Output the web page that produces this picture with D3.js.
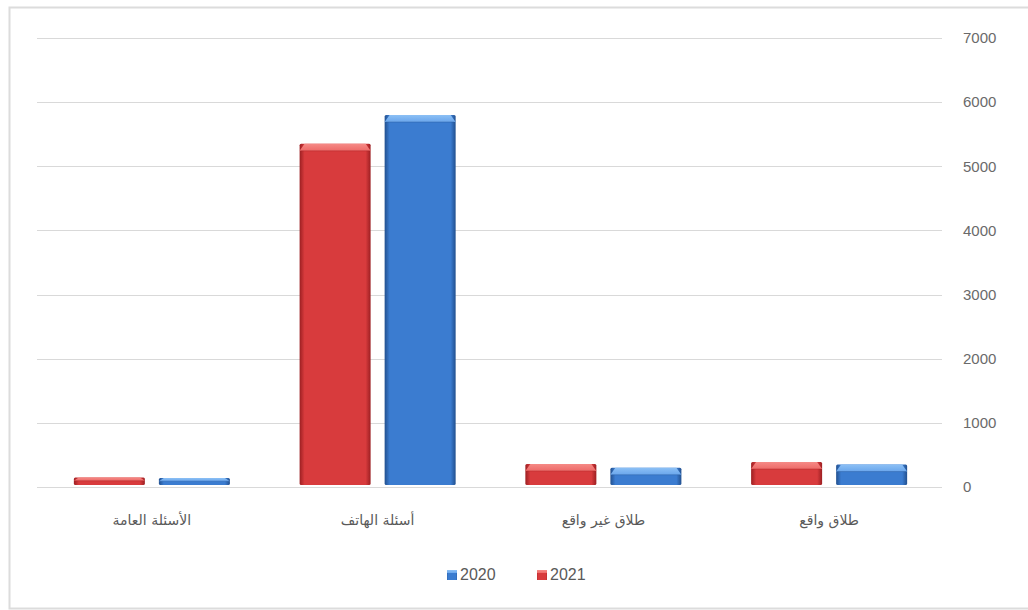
<!DOCTYPE html>
<html><head><meta charset="utf-8">
<script src="https://cdn.jsdelivr.net/npm/d3@7"></script>
<style>body{margin:0;background:#fff;}</style>
</head><body>
<svg id="c" width="1028" height="610"></svg>
<script>
const categories = ["الأسئلة العامة", "أسئلة الهاتف", "طلاق غير واقع", "طلاق واقع"];
const series = ["2021", "2020"];
const values2021 = [150, 5350, 360, 390];
const values2020 = [140, 5800, 300, 350];
const yTicks = [0, 1000, 2000, 3000, 4000, 5000, 6000, 7000];
const legendOrder = ["2020", "2021"];

const svg = d3.select("#c");
const W = 1028, H = 610;
const m = {left: 39, right: 86, top: 38, bottom: 123};
const x0 = d3.scaleBand().domain(categories).range([m.left, W - m.right]).paddingInner(0).paddingOuter(0);
const x1 = d3.scaleBand().domain(series).range([0, x0.bandwidth()]).paddingInner(0.165).paddingOuter(0.41);
const y = d3.scaleLinear().domain([0, 7000]).range([H - m.bottom, m.top]);

// border
svg.append("rect").attr("x", 9.5).attr("y", 7.5).attr("width", W - 5).attr("height", H - 9)
  .attr("fill", "none").attr("stroke", "#dcdcdc").attr("stroke-width", 2);

const defs = svg.append("defs");
const colors = {
  "2021": {edge: "#9c1f22", main: "#d83b3d", light: "#ee6a68", cap: "#f58a86"},
  "2020": {edge: "#22508f", main: "#3b7cd0", light: "#6aa6ec", cap: "#8cc0f5"}
};
Object.entries(colors).forEach(([k, c]) => {
  const g = defs.append("linearGradient").attr("id", "g" + k).attr("x1", 0).attr("x2", 1).attr("y1", 0).attr("y2", 0);
  g.append("stop").attr("offset", "0%").attr("stop-color", c.edge);
  g.append("stop").attr("offset", "7%").attr("stop-color", c.main);
  g.append("stop").attr("offset", "93%").attr("stop-color", c.main);
  g.append("stop").attr("offset", "100%").attr("stop-color", c.edge);
  const t = defs.append("linearGradient").attr("id", "t" + k).attr("x1", 0).attr("x2", 0).attr("y1", 0).attr("y2", 1);
  t.append("stop").attr("offset", "0%").attr("stop-color", c.cap);
  t.append("stop").attr("offset", "100%").attr("stop-color", c.light);
});

// grid
svg.append("g").selectAll("line").data(yTicks).join("line")
  .attr("x1", m.left - 2).attr("x2", W - m.right)
  .attr("y1", d => Math.round(y(d)) + 0.5).attr("y2", d => Math.round(y(d)) + 0.5)
  .attr("stroke", "#d9d9d9").attr("stroke-width", 1);

const yAxis = d3.axisRight(y).tickValues(yTicks).tickFormat(d3.format("d")).tickSize(0).tickPadding(0);
const ax = svg.append("g").attr("transform", `translate(963,0)`).call(yAxis);
ax.select(".domain").remove();
ax.selectAll("text").attr("fill", "#6a6a6a").attr("font-family", "Liberation Sans, Arial, sans-serif").attr("font-size", 15);

// bars
const data = categories.map((c, i) => ({c, vals: [{s: "2021", v: values2021[i]}, {s: "2020", v: values2020[i]}]}));
const grp = svg.append("g").selectAll("g").data(data).join("g")
  .attr("transform", d => `translate(${x0(d.c)},0)`);
grp.each(function(d) {
  const g = d3.select(this);
  d.vals.forEach(b => {
    const bx = x1(b.s), bw = x1.bandwidth(), top = y(b.v), base = y(0) - 2;
    const h = base - top;
    g.append("rect").attr("x", bx).attr("y", top).attr("width", bw).attr("height", h)
      .attr("fill", `url(#g${b.s})`).attr("rx", 1.5);
    const cap = Math.min(7, h * 0.45);
    g.append("path")
      .attr("d", `M${bx},${top + cap} L${bx + 5},${top} L${bx + bw - 5},${top} L${bx + bw},${top + cap} Z`)
      .attr("fill", `url(#t${b.s})`);
    g.append("line").attr("x1", bx + 1).attr("x2", bx + bw - 1).attr("y1", top + cap).attr("y2", top + cap)
      .attr("stroke", colors[b.s].edge).attr("stroke-opacity", 0.35);
  });
});

// x labels
svg.append("g").selectAll("text").data(categories).join("text")
  .attr("x", d => x0(d) + x0.bandwidth() / 2).attr("y", 525)
  .attr("text-anchor", "middle").attr("direction", "rtl")
  .attr("fill", "#595959").attr("font-family", "DejaVu Sans, sans-serif").attr("font-size", 14)
  .text(d => d);

// legend
const lg = svg.append("g").attr("transform", "translate(447,576)");
const lx = [0, 90];
legendOrder.forEach((s, i) => {
  const g = lg.append("g").attr("transform", `translate(${lx[i]},0)`);
  g.append("rect").attr("x", 0).attr("y", -6).attr("width", 10).attr("height", 10).attr("fill", `url(#g${s})`);
  g.append("rect").attr("x", 0).attr("y", -6).attr("width", 10).attr("height", 3).attr("fill", `url(#t${s})`);
  g.append("text").attr("x", 13).attr("y", 4).attr("fill", "#595959")
    .attr("font-family", "Liberation Sans, Arial, sans-serif").attr("font-size", 16).text(s);
});
</script>
</body></html>
